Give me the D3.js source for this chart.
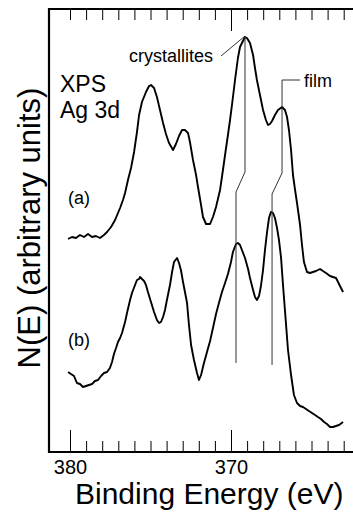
<!DOCTYPE html>
<html><head><meta charset="utf-8">
<script src="https://cdn.jsdelivr.net/npm/d3@7"></script>
<style>
html,body{margin:0;padding:0;background:#fff;}
svg{display:block;}
text{font-family:"Liberation Sans",Arial,Helvetica,sans-serif;fill:#000;}
</style></head>
<body>
<svg id="c" width="353" height="512"></svg>
<script>
// ---- data ----
const tickValues = d3.range(363, 381);
const majorTicks = [380, 370];
const tickLabels = {380: "380", 370: "370"};

const energyA = [380.12,379.88,379.63,379.38,379.13,378.88,378.63,378.39,378.14,377.89,377.70,377.45,377.20,377.02,376.89,376.71,376.58,376.40,376.21,376.02,375.84,375.71,375.53,375.28,375.09,374.97,374.78,374.60,374.41,374.22,374.04,373.85,373.60,373.42,373.23,373.04,372.86,372.67,372.55,372.36,372.17,372.05,371.86,371.74,371.55,371.30,371.12,370.93,370.68,370.50,370.37,370.19,370.06,369.94,369.75,369.57,369.44,369.32,369.13,369.01,368.82,368.63,368.51,368.39,368.20,368.01,367.83,367.70,367.58,367.45,367.27,367.08,366.83,366.65,366.52,366.40,366.27,366.15,366.02,365.90,365.71,365.59,365.47,365.28,365.09,364.91,364.72,364.47,364.29,364.10,363.85,363.67,363.48,363.35,363.23,363.04];
const countsA = [213,215,214,217,215,218,215,216,214,217,220,225,232,239,244,252,259,272,284,300,320,337,350,360,366,367,364,355,342,329,318,309,302,308,316,322,322,319,310,292,277,265,247,235,228,228,235,245,262,282,297,317,332,347,372,394,405,409,415,414,409,397,384,372,357,342,332,327,328,331,337,342,345,342,335,322,302,277,262,249,227,207,190,180,179,180,181,183,181,179,176,175,174,170,166,160];

const energyB = [380.12,379.94,379.75,379.57,379.38,379.19,379.01,378.82,378.63,378.45,378.26,378.07,377.89,377.70,377.52,377.39,377.27,377.14,377.02,376.89,376.77,376.58,376.46,376.27,376.15,375.96,375.84,375.71,375.65,375.53,375.40,375.28,375.16,374.97,374.78,374.60,374.47,374.35,374.22,374.10,373.98,373.79,373.66,373.54,373.35,373.23,373.11,372.98,372.86,372.73,372.61,372.48,372.30,372.11,371.99,371.86,371.68,371.49,371.30,371.12,370.93,370.75,370.56,370.37,370.19,370.00,369.88,369.69,369.57,369.44,369.32,369.13,368.94,368.82,368.63,368.51,368.39,368.26,368.14,368.01,367.89,367.76,367.64,367.52,367.39,367.27,367.14,367.02,366.89,366.77,366.65,366.46,366.27,366.09,365.90,365.71,365.53,365.34,365.16,364.97,364.78,364.60,364.41,364.22,364.04,363.85,363.67,363.48,363.29,363.04];
const countsB = [80,78,76,69,68,65,66,67,68,71,72,76,79,80,84,90,98,104,110,114,119,130,139,152,159,167,172,173,175,173,171,167,160,150,140,132,129,130,135,142,152,167,180,190,194,189,182,170,160,149,127,107,92,79,72,77,89,100,111,124,138,149,160,169,178,190,200,208,209,207,202,194,183,174,162,155,152,156,166,182,202,220,234,240,239,234,224,212,194,167,142,102,77,57,49,46,45,43,41,39,37,35,33,30,28,25,25,26,27,30];

// annotation leader lines (energy, counts)
const crystallitesLine = [[369.13,416],[369.13,280],[369.69,260],[369.69,89]];
const crystallitesLeader = [[370.62,396],[369.13,416]];
const filmLine = [[365.71,372],[366.83,372],[366.83,279],[367.45,258],[367.45,87]];

const titleLines = ["XPS", "Ag 3d"];
const labels = {
  crystallites: "crystallites", film: "film",
  a: "(a)", b: "(b)",
  xTitle: "Binding Energy (eV)", yTitle: "N(E) (arbitrary units)"
};

// ---- chart ----
const svg = d3.select("#c");
const L = 49, T = 9, B = 452, R = 353;
const x = d3.scaleLinear().domain([380, 370]).range([70, 231]);
const y = d3.scaleLinear().domain([0, 443]).range([B, T]);

// bottom axis
const gB = svg.append("g").attr("transform", `translate(0,${B})`)
  .call(d3.axisBottom(x).tickValues(tickValues).tickSize(-11).tickPadding(8)
    .tickFormat(d => tickLabels[d] || ""));
gB.select(".domain").remove();
gB.selectAll(".tick line").attr("stroke", "#000").attr("stroke-width", 1)
  .attr("y2", d => majorTicks.includes(d) ? -22 : -11);
gB.selectAll(".tick text").attr("font-size", 20)
  .style("font-family", '"Liberation Sans",Arial,sans-serif');

// top axis
const gT = svg.append("g").attr("transform", `translate(0,${T})`)
  .call(d3.axisTop(x).tickValues(tickValues).tickSize(-11).tickFormat(""));
gT.select(".domain").remove();
gT.selectAll(".tick line").attr("stroke", "#000").attr("stroke-width", 1)
  .attr("y2", d => d === 370 ? 22 : 11);

// frame
svg.append("path").attr("d", `M${R},${T}H${L}V${B}H${R}`)
  .attr("fill", "none").attr("stroke", "#000").attr("stroke-width", 2.2);

// curves
const line = d3.line().x(d => x(d[0])).y(d => y(d[1]));
const serA = energyA.map((e, i) => [e, countsA[i]]);
const serB = energyB.map((e, i) => [e, countsB[i]]);
[serA, serB].forEach(s => svg.append("path").datum(s).attr("d", line)
  .attr("fill", "none").attr("stroke", "#000").attr("stroke-width", 1.9)
  .attr("stroke-linejoin", "round"));

// annotation lines
[crystallitesLine, crystallitesLeader, filmLine].forEach(s =>
  svg.append("path").datum(s).attr("d", line).attr("fill", "none")
    .attr("stroke", "#333").attr("stroke-width", 1));

// texts
function txt(t, xx, yy, size, anchor) {
  return svg.append("text").attr("x", xx).attr("y", yy).attr("font-size", size)
    .attr("text-anchor", anchor || "start").text(t);
}
titleLines.forEach((t, i) => txt(t, 60, 92 + i * 26, 23));
txt(labels.crystallites, 129, 62, 18);
txt(labels.film, 304, 87, 18);
txt(labels.a, 68, 204, 18);
txt(labels.b, 68, 346, 18);
txt(labels.xTitle, 75, 504, 30);
svg.append("text").attr("transform", "translate(40,228) rotate(-90)")
  .attr("text-anchor", "middle").attr("font-size", 31).text(labels.yTitle);
</script>
</body></html>
